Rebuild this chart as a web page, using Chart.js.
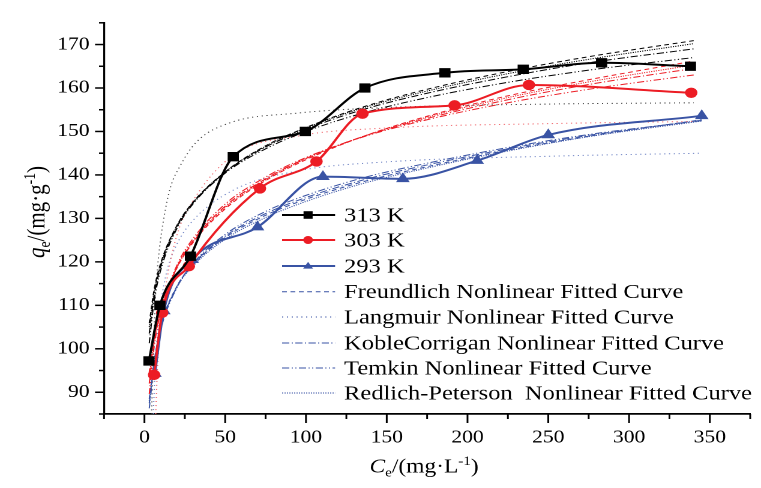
<!DOCTYPE html>
<html>
<head>
<meta charset="utf-8">
<script src="https://cdn.jsdelivr.net/npm/chart.js@4/dist/chart.umd.min.js"></script>
<style>
  html, body { margin: 0; padding: 0; background: #fff; }
  #myChart { display: block; }
</style>
</head>
<body>
<canvas id="myChart" width="634" height="488" style="width:761px;height:488px"></canvas>
<script>
// measured points
const x313 = [2.8, 9.6, 28.5, 55, 99.6, 136.5, 186, 234.5, 283, 338];
const y313 = [97.2, 110, 121.3, 144.2, 150, 160, 163.5, 164.3, 165.8, 165];
const x303 = [6, 11, 27.5, 71.5, 106.5, 135, 192, 238, 338.5];
const y303 = [94.0, 108.3, 119, 136.9, 143.1, 154.1, 156.0, 160.7, 158.9];
const x293 = [6.5, 12, 29.5, 70, 110.5, 160, 206, 250, 345];
const y293 = [94.3, 108.7, 120.5, 128, 139.6, 139.1, 143.3, 149.2, 153.6];

// fitted curves
const fitX313 = [3, 6, 10, 20, 30, 50, 75, 100, 135, 175, 225, 275, 340];
const freundlich313 = [105.9, 113.6, 119.6, 128.3, 133.7, 140.7, 146.7, 150.9, 155.6, 159.7, 163.8, 167.2, 170.9];
const koble313 = [103.5, 112.2, 118.8, 128, 133.5, 140.6, 146.4, 150.5, 155, 158.8, 162.6, 165.8, 169.0];
const temkin313 = [101.3, 110.9, 118.0, 127.6, 133.3, 140.4, 146.0, 150, 154.2, 157.8, 161.3, 164.1, 167.0];
const redlich313 = [105, 113, 119.3, 128.2, 133.6, 140.7, 146.6, 150.8, 155.4, 159.3, 163.3, 166.6, 170.2];
const langX313 = [4.3, 5, 6, 7, 9, 12, 16, 22, 32, 53, 94, 150, 250, 340];
const langmuir313 = [84, 92, 104, 113, 122, 130, 137, 142, 147.5, 152, 154.2, 155.5, 156.3, 156.6];

const fitX303 = [3, 6, 10, 20, 30, 50, 75, 100, 135, 175, 225, 275, 340];
const freundlich303 = [94.6, 102.8, 109.1, 118.5, 124.4, 132.2, 138.7, 143.5, 148.8, 153.5, 158.2, 161.9, 166.2];
const koble303 = [92, 101.5, 108.5, 118.7, 124.8, 132.8, 139.1, 143.8, 148.8, 153, 157.3, 160.8, 164.5];
const temkin303 = [89.6, 100.4, 108.3, 119.1, 125.3, 133.3, 139.5, 144, 148.7, 152.7, 156.6, 159.7, 163.0];
const redlich303 = [93.5, 102.2, 108.8, 118.6, 124.6, 132.5, 138.9, 143.7, 148.8, 153.3, 157.8, 161.4, 165.3];
const langX303 = [7, 8, 10, 13, 20, 30, 55, 96, 150, 250, 340];
const langmuir303 = [85, 95, 106, 114, 126, 134, 144.5, 149, 150.8, 151.8, 152.3];

const fitX293 = [3, 6, 10, 20, 30, 50, 75, 100, 135, 175, 225, 275, 345];
const freundlich293 = [88.5, 97, 105, 114.3, 119.3, 125.6, 130.7, 134.4, 138.4, 141.9, 145.7, 148.9, 152.7];
const koble293 = [87.5, 96.5, 104.6, 114.2, 119.4, 125.9, 131.1, 134.8, 138.8, 142.3, 146, 149.1, 152.6];
const temkin293 = [86.3, 96, 104.2, 114, 119.6, 126.3, 131.6, 135.3, 139.3, 142.7, 146.3, 149.3, 152.5];
const redlich293 = [88, 96.8, 104.8, 114.1, 119, 125.2, 130.2, 133.9, 138, 141.6, 145.5, 148.8, 152.4];
const langX293 = [5.5, 6.5, 8, 10, 14, 20, 30, 55, 96, 150, 250, 345];
const langmuir293 = [85, 94, 103, 110, 118, 124, 129.5, 136.5, 141, 143, 144.3, 145];

const xTicks = [0, 50, 100, 150, 200, 250, 300, 350];
const yTicks = [90, 100, 110, 120, 130, 140, 150, 160, 170];

const BLACK = '#000000', RED = '#ec1c24', BLUE = '#3953a4';
const FONT = '"Liberation Serif", "Times New Roman", serif';
const SX = 1.2; // the picture is stretched sideways

const pts = (xs, ys) => xs.map((x, i) => ({ x: x, y: ys[i] }));

const fitStyles = {
  Freundlich: [4, 3],
  Langmuir: [1, 3],
  KobleCorrigan: [6, 2, 1, 2],
  Temkin: [6, 2, 1, 2, 1, 2],
  Redlich: [1, 1]
};

const fitLine = (label, color, xs, ys, kind) => ({
  label: label,
  data: pts(xs, ys),
  borderColor: color,
  borderWidth: 1,
  borderDash: fitStyles[kind],
  pointRadius: 0,
  cubicInterpolationMode: 'monotone',
  fill: false
});

const dataLine = (label, color, xs, ys, style, r) => ({
  label: label,
  data: pts(xs, ys),
  borderColor: color,
  backgroundColor: color,
  borderWidth: 2,
  pointStyle: style,
  pointRadius: r,
  pointBorderWidth: 0,
  cubicInterpolationMode: 'monotone',
  fill: false
});

const datasets = [
  dataLine('313 K', BLACK, x313, y313, 'rect', 6.6),
  dataLine('303 K', RED, x303, y303, 'circle', 5.2),
  dataLine('293 K', BLUE, x293, y293, 'triangle', 6.6),
  fitLine('Freundlich', BLACK, fitX313, freundlich313, 'Freundlich'),
  fitLine('KobleCorrigan', BLACK, fitX313, koble313, 'KobleCorrigan'),
  fitLine('Temkin', BLACK, fitX313, temkin313, 'Temkin'),
  fitLine('Redlich', BLACK, fitX313, redlich313, 'Redlich'),
  fitLine('Langmuir', '#444444', langX313, langmuir313, 'Langmuir'),
  fitLine('Freundlich', RED, fitX303, freundlich303, 'Freundlich'),
  fitLine('KobleCorrigan', RED, fitX303, koble303, 'KobleCorrigan'),
  fitLine('Temkin', RED, fitX303, temkin303, 'Temkin'),
  fitLine('Redlich', RED, fitX303, redlich303, 'Redlich'),
  fitLine('Langmuir', '#f0646a', langX303, langmuir303, 'Langmuir'),
  fitLine('Freundlich', BLUE, fitX293, freundlich293, 'Freundlich'),
  fitLine('KobleCorrigan', BLUE, fitX293, koble293, 'KobleCorrigan'),
  fitLine('Temkin', BLUE, fitX293, temkin293, 'Temkin'),
  fitLine('Redlich', BLUE, fitX293, redlich293, 'Redlich'),
  fitLine('Langmuir', '#6f83c4', langX293, langmuir293, 'Langmuir')
];

const legendRows = [
  { text: '313 K', color: BLACK, marker: 'rect' },
  { text: '303 K', color: RED, marker: 'circle' },
  { text: '293 K', color: BLUE, marker: 'triangle' },
  { text: 'Freundlich Nonlinear Fitted Curve', color: BLUE, dash: fitStyles.Freundlich },
  { text: 'Langmuir Nonlinear Fitted Curve', color: BLUE, dash: fitStyles.Langmuir },
  { text: 'KobleCorrigan Nonlinear Fitted Curve', color: BLUE, dash: fitStyles.KobleCorrigan },
  { text: 'Temkin Nonlinear Fitted Curve', color: BLUE, dash: fitStyles.Temkin },
  { text: 'Redlich-Peterson  Nonlinear Fitted Curve', color: BLUE, dash: fitStyles.Redlich }
];

function drawMarker(ctx, kind, x, y, s) {
  ctx.beginPath();
  if (kind === 'rect') {
    ctx.rect(x - s, y - s, 2 * s, 2 * s);
  } else if (kind === 'circle') {
    ctx.arc(x, y, s, 0, Math.PI * 2);
  } else {
    ctx.moveTo(x, y - s * 1.1);
    ctx.lineTo(x + s * 1.1, y + s * 0.7);
    ctx.lineTo(x - s * 1.1, y + s * 0.7);
    ctx.closePath();
  }
  ctx.fill();
}

// draws text made of normal / italic / sub / sup parts, centred at 0,0
function drawRich(ctx, parts, size) {
  const fontOf = p => (p.italic ? 'italic ' : '') + (p.sub || p.sup ? size * 0.65 : size) + 'px ' + FONT;
  let total = 0;
  parts.forEach(p => { ctx.font = fontOf(p); total += ctx.measureText(p.t).width; });
  let x = -total / 2;
  ctx.textBaseline = 'alphabetic';
  ctx.textAlign = 'left';
  parts.forEach(p => {
    ctx.font = fontOf(p);
    let dy = size * 0.33;
    if (p.sub) dy += size * 0.22;
    if (p.sup) dy -= size * 0.38;
    ctx.fillText(p.t, x, dy);
    x += ctx.measureText(p.t).width;
  });
}

const extras = {
  id: 'extras',
  afterDraw(chart) {
    const ctx = chart.ctx;
    const xs = chart.scales.x, ys = chart.scales.y, a = chart.chartArea;
    ctx.save();
    ctx.strokeStyle = '#000';
    ctx.lineWidth = 1.5;
    for (let v = -25; v <= 375; v += 25) {
      const px = xs.getPixelForValue(v);
      const len = v % 50 === 0 ? 9 : 5;
      ctx.beginPath(); ctx.moveTo(px, a.bottom); ctx.lineTo(px, a.bottom + len); ctx.stroke();
    }
    for (let v = 85; v <= 175; v += 5) {
      const py = ys.getPixelForValue(v);
      const len = (v % 10 === 0 ? 9 : 5) / SX;
      ctx.beginPath(); ctx.moveTo(a.left, py); ctx.lineTo(a.left - len, py); ctx.stroke();
    }

    // axis titles
    ctx.fillStyle = '#000';
    ctx.save();
    ctx.translate(424 / SX, 466);
    drawRich(ctx, [{ t: 'C', italic: true }, { t: 'e', sub: true }, { t: '/(mg·L' }, { t: '-1', sup: true }, { t: ')' }], 19.5);
    ctx.restore();
    ctx.save();
    ctx.translate(36 / SX, 212);
    ctx.rotate(-Math.PI / 2);
    drawRich(ctx, [{ t: 'q', italic: true }, { t: 'e', sub: true }, { t: '/(mg·g' }, { t: '-1', sup: true }, { t: ')' }], 21);
    ctx.restore();

    // legend
    const rowY = [215, 240, 266, 291.7, 317, 343, 368, 393];
    const x0 = 282 / SX, x1 = 335 / SX, mx = 308 / SX, tx = 344 / SX;
    legendRows.forEach((row, i) => {
      const y = rowY[i];
      ctx.strokeStyle = row.color;
      ctx.fillStyle = row.color;
      ctx.lineWidth = row.marker ? 2 : 1;
      ctx.setLineDash(row.dash || []);
      ctx.beginPath(); ctx.moveTo(x0, y); ctx.lineTo(x1, y); ctx.stroke();
      ctx.setLineDash([]);
      if (row.marker) drawMarker(ctx, row.marker, mx, y, row.marker === 'circle' ? 4 : 3.8);
      ctx.fillStyle = '#000';
      ctx.font = '20.4px ' + FONT;
      ctx.textAlign = 'left';
      ctx.textBaseline = 'middle';
      ctx.fillText(row.text, tx, y + 1);
    });
    ctx.restore();
  }
};

const ctx = document.getElementById('myChart').getContext('2d');
const myChart = new Chart(ctx, {
  type: 'line',
  data: { datasets: datasets },
  options: {
    responsive: false,
    devicePixelRatio: 2,
    animation: false,
    layout: { padding: { left: 0, right: 9, top: 7, bottom: 0 } },
    plugins: { legend: { display: false }, tooltip: { enabled: false } },
    scales: {
      x: {
        type: 'linear',
        min: -25,
        max: 375,
        afterBuildTicks: s => { s.ticks = xTicks.map(v => ({ value: v })); },
        afterFit: s => { s.height = 74; },
        grid: { display: false, drawTicks: false },
        border: { display: true, color: '#000', width: 1.8 },
        ticks: { padding: 13, color: '#000', font: { family: FONT, size: 18 }, maxRotation: 0 }
      },
      y: {
        type: 'linear',
        min: 85,
        max: 175,
        afterBuildTicks: s => { s.ticks = yTicks.map(v => ({ value: v })); },
        afterFit: s => { s.width = 104 / SX; },
        grid: { display: false, drawTicks: false },
        border: { display: true, color: '#000', width: 1.6 },
        ticks: { padding: 12, color: '#000', font: { family: FONT, size: 18 } }
      }
    }
  },
  plugins: [extras]
});
</script>
</body>
</html>
